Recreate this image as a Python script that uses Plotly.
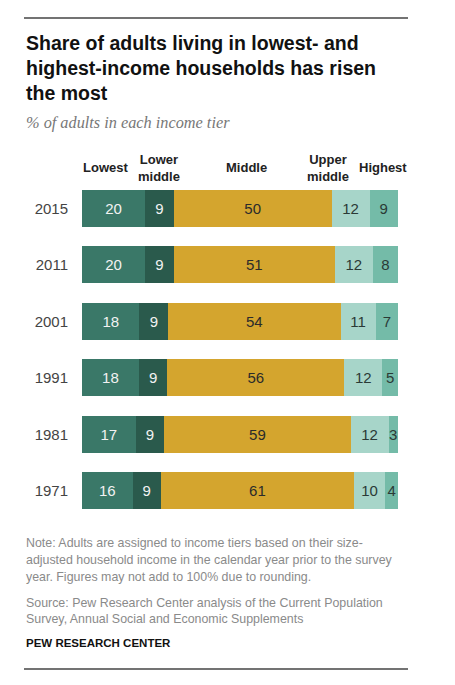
import plotly.graph_objects as go

years = ["1971", "1981", "1991", "2001", "2011", "2015"]
tiers = ["Lowest", "Lower middle", "Middle", "Upper middle", "Highest"]
lowest = [16, 17, 18, 18, 20, 20]
lower_middle = [9, 9, 9, 9, 9, 9]
middle = [61, 59, 56, 54, 51, 50]
upper_middle = [10, 12, 12, 11, 12, 12]
highest = [4, 3, 5, 7, 8, 9]
header_labels = ["Lowest", "Lower<br>middle", "Middle", "Upper<br>middle", "Highest"]
header_x = [7.3, 24.4, 52.2, 77.8, 95.3]

series = [lowest, lower_middle, middle, upper_middle, highest]
colors = ["#3a7868", "#2a5a4c", "#d4a52e", "#a7d5c9", "#74bba8"]
text_colors = ["#f2f2f2", "#f2f2f2", "#2b2b2b", "#2b3a36", "#2b3a36"]

# page is 455x685; the HTML body has an 8px default margin
OFF = 8
W, H = 455 - 2 * OFF, 685 - 2 * OFF
# plot area in page pixel coordinates
L, R, T, B = 82, 398, 180, 519
FONT = "Liberation Sans, Arial, sans-serif"


def px(x):
    return (x - L) / (R - L)


def py(y):
    return (B - y) / (B - T)


fig = go.Figure()
for name, vals, c, tc in zip(tiers, series, colors, text_colors):
    fig.add_trace(go.Bar(
        y=years, x=vals, name=name, orientation="h",
        marker=dict(color=c, line=dict(width=0)),
        text=[str(v) for v in vals], textposition="inside",
        insidetextanchor="middle", textangle=0, constraintext="none",
        textfont=dict(family=FONT, size=15, color=tc),
        hoverinfo="skip",
    ))

annotations = []
title_lines = [(43, "Share of adults living in lowest- and"),
               (68, "highest-income households has risen"),
               (93, "the most")]
for yy, t in title_lines:
    annotations.append(dict(
        xref="paper", yref="paper", x=px(24), y=py(yy), xanchor="left", yanchor="middle",
        text="<b>" + t + "</b>", showarrow=False,
        font=dict(family=FONT, size=19.5, color="#111111"), align="left"))
annotations.append(dict(
    xref="paper", yref="paper", x=px(24), y=py(123), xanchor="left", yanchor="middle",
    text="<i>% of adults in each income tier</i>", showarrow=False,
    font=dict(family="Liberation Serif, Georgia, serif", size=16.3, color="#777777"), align="left"))
for lab, hx in zip(header_labels, header_x):
    annotations.append(dict(
        xref="x", yref="paper", x=hx, y=py(168), xanchor="center", yanchor="middle",
        text="<b>" + lab + "</b>", showarrow=False,
        font=dict(family=FONT, size=13, color="#222222"), align="center"))
note_lines = [
    (543, "Note: Adults are assigned to income tiers based on their size-"),
    (560, "adjusted household income in the calendar year prior to the survey"),
    (577, "year. Figures may not add to 100% due to rounding."),
    (603, "Source: Pew Research Center analysis of the Current Population"),
    (619, "Survey, Annual Social and Economic Supplements"),
]
for yy, t in note_lines:
    annotations.append(dict(
        xref="paper", yref="paper", x=px(24), y=py(yy), xanchor="left", yanchor="middle",
        text=t, showarrow=False,
        font=dict(family=FONT, size=12.4, color="#8a8a8a"), align="left"))
annotations.append(dict(
    xref="paper", yref="paper", x=px(24), y=py(643), xanchor="left", yanchor="middle",
    text="<b>PEW RESEARCH CENTER</b>", showarrow=False,
    font=dict(family=FONT, size=11.5, color="#111111"), align="left"))

shapes = [
    dict(type="line", xref="paper", yref="paper", x0=px(24), x1=px(408), y0=py(18), y1=py(18),
         line=dict(color="#444444", width=1.5)),
    dict(type="line", xref="paper", yref="paper", x0=px(24), x1=px(408), y0=py(669), y1=py(669),
         line=dict(color="#444444", width=1.5)),
]

fig.update_layout(
    width=W, height=H,
    margin=dict(l=L - OFF, r=(455 - R) - OFF, t=T - OFF, b=(685 - B) - OFF, pad=0),
    barmode="stack", barnorm="percent", bargap=0.345,
    showlegend=False,
    paper_bgcolor="white", plot_bgcolor="white",
    font=dict(family=FONT),
    annotations=annotations, shapes=shapes,
    xaxis=dict(visible=False, range=[0, 100], fixedrange=True),
    yaxis=dict(categoryorder="array", categoryarray=years, showgrid=False, zeroline=False,
               showline=False, ticks="", ticklabelstandoff=13,
               tickfont=dict(family=FONT, size=15, color="#444444"), fixedrange=True),
)

fig.write_html("out.html", config={"displayModeBar": False})
